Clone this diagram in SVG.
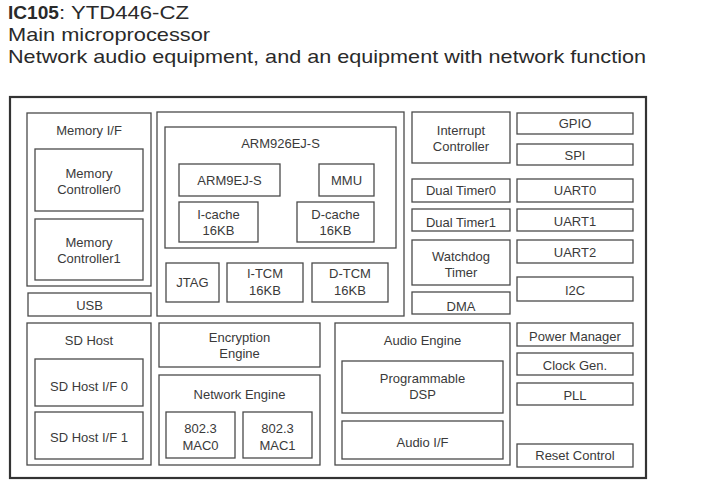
<svg xmlns="http://www.w3.org/2000/svg" width="717" height="489" viewBox="0 0 717 489">
<style>
.b{fill:#fff;stroke:#4a4a4a;stroke-width:1.3}
.t{font-family:"Liberation Sans",Arial,sans-serif;font-size:13px;fill:#3a3a3a;text-anchor:middle}
.h{font-family:"Liberation Sans",Arial,sans-serif;font-size:18.4px;fill:#2a2a2a}
</style>
<rect width="717" height="489" fill="#fff"/>
<g id="header">
<text class="h" x="8" y="19" font-weight="bold" fill="#111" textLength="51" lengthAdjust="spacingAndGlyphs">IC105</text>
<text class="h" x="59" y="19" textLength="130" lengthAdjust="spacingAndGlyphs">: YTD446-CZ</text>
<text class="h" x="8" y="40.5" textLength="202" lengthAdjust="spacingAndGlyphs">Main microprocessor</text>
<text class="h" x="8" y="62.5" textLength="638" lengthAdjust="spacingAndGlyphs">Network audio equipment, and an equipment with network function</text>
</g>
<g id="chip"><rect x="10" y="97" width="636" height="381" fill="#fff" stroke="#333" stroke-width="2.2"/></g>
<g id="connectors"></g>
<g id="memory-if"><rect class="b" x="27" y="113" width="124" height="173"/><text class="t" x="89" y="135">Memory I/F</text></g>
<g id="memory-controller0"><rect class="b" x="35" y="149" width="108" height="62"/><text class="t" x="89" y="178">Memory</text><text class="t" x="89" y="194">Controller0</text></g>
<g id="memory-controller1"><rect class="b" x="35" y="219" width="108" height="61"/><text class="t" x="89" y="247">Memory</text><text class="t" x="89" y="263">Controller1</text></g>
<g id="usb"><rect class="b" x="28" y="293" width="123" height="23"/><text class="t" x="89.5" y="309.5">USB</text></g>
<g id="cpu"><rect class="b" x="157" y="112" width="247" height="204"/></g>
<g id="arm926"><rect class="b" x="165" y="127" width="231" height="121"/><text class="t" x="280.5" y="148">ARM926EJ-S</text></g>
<g id="arm9ejs"><rect class="b" x="179" y="164" width="101" height="32"/><text class="t" x="229.5" y="185">ARM9EJ-S</text></g>
<g id="mmu"><rect class="b" x="319" y="164" width="55" height="32"/><text class="t" x="346.5" y="185">MMU</text></g>
<g id="icache"><rect class="b" x="179" y="202" width="79" height="40"/><text class="t" x="218.5" y="219">I-cache</text><text class="t" x="218.5" y="234.5">16KB</text></g>
<g id="dcache"><rect class="b" x="297" y="202" width="77" height="40"/><text class="t" x="335.5" y="219">D-cache</text><text class="t" x="335.5" y="234.5">16KB</text></g>
<g id="jtag"><rect class="b" x="166" y="263" width="53" height="39"/><text class="t" x="192.5" y="287">JTAG</text></g>
<g id="itcm"><rect class="b" x="227" y="263" width="76" height="39"/><text class="t" x="265" y="278">I-TCM</text><text class="t" x="265" y="294.5">16KB</text></g>
<g id="dtcm"><rect class="b" x="312" y="263" width="76" height="39"/><text class="t" x="350" y="278">D-TCM</text><text class="t" x="350" y="294.5">16KB</text></g>
<g id="interrupt-controller"><rect class="b" x="412" y="112" width="98" height="51"/><text class="t" x="461" y="134.5">Interrupt</text><text class="t" x="461" y="150.5">Controller</text></g>
<g id="gpio"><rect class="b" x="517" y="113" width="116" height="21"/><text class="t" x="575" y="128">GPIO</text></g>
<g id="spi"><rect class="b" x="517" y="144" width="116" height="21"/><text class="t" x="575" y="159.5">SPI</text></g>
<g id="dual-timer0"><rect class="b" x="412" y="179" width="98" height="23"/><text class="t" x="461" y="194.5">Dual Timer0</text></g>
<g id="uart0"><rect class="b" x="517" y="179" width="116" height="23"/><text class="t" x="575" y="194.5">UART0</text></g>
<g id="dual-timer1"><rect class="b" x="412" y="209" width="98" height="22"/><text class="t" x="461" y="227">Dual Timer1</text></g>
<g id="uart1"><rect class="b" x="517" y="209" width="116" height="22"/><text class="t" x="575" y="226">UART1</text></g>
<g id="watchdog-timer"><rect class="b" x="412" y="240" width="98" height="45"/><text class="t" x="461" y="260.5">Watchdog</text><text class="t" x="461" y="276.5">Timer</text></g>
<g id="uart2"><rect class="b" x="517" y="240" width="116" height="23"/><text class="t" x="575" y="257">UART2</text></g>
<g id="i2c"><rect class="b" x="517" y="277" width="116" height="24"/><text class="t" x="575" y="294.5">I2C</text></g>
<g id="dma"><rect class="b" x="412" y="292" width="98" height="22"/><text class="t" x="461" y="310.5">DMA</text></g>
<g id="sd-host"><rect class="b" x="27" y="323" width="124" height="142"/><text class="t" x="89" y="344.5">SD Host</text></g>
<g id="sd-host-if0"><rect class="b" x="35" y="359" width="108" height="47"/><text class="t" x="89" y="391">SD Host I/F 0</text></g>
<g id="sd-host-if1"><rect class="b" x="35" y="412" width="108" height="47"/><text class="t" x="89" y="442">SD Host I/F 1</text></g>
<g id="encryption-engine"><rect class="b" x="159" y="323" width="161" height="44"/><text class="t" x="239.5" y="342">Encryption</text><text class="t" x="239.5" y="358">Engine</text></g>
<g id="network-engine"><rect class="b" x="159" y="375" width="161" height="90"/><text class="t" x="239.5" y="398.5">Network Engine</text></g>
<g id="mac0"><rect class="b" x="166" y="412" width="69" height="46"/><text class="t" x="200.5" y="433">802.3</text><text class="t" x="200.5" y="449.5">MAC0</text></g>
<g id="mac1"><rect class="b" x="243" y="412" width="69" height="46"/><text class="t" x="277.5" y="433">802.3</text><text class="t" x="277.5" y="449.5">MAC1</text></g>
<g id="audio-engine"><rect class="b" x="335" y="323" width="175" height="142"/><text class="t" x="422.5" y="344.5">Audio Engine</text></g>
<g id="programmable-dsp"><rect class="b" x="342" y="361" width="161" height="52"/><text class="t" x="422.5" y="383">Programmable</text><text class="t" x="422.5" y="398.5">DSP</text></g>
<g id="audio-if"><rect class="b" x="342" y="421" width="161" height="38"/><text class="t" x="422.5" y="446.5">Audio I/F</text></g>
<g id="power-manager"><rect class="b" x="517" y="323" width="116" height="23"/><text class="t" x="575" y="340.5">Power Manager</text></g>
<g id="clock-gen"><rect class="b" x="517" y="353" width="116" height="22"/><text class="t" x="575" y="369.5">Clock Gen.</text></g>
<g id="pll"><rect class="b" x="517" y="383" width="116" height="22"/><text class="t" x="575" y="399.5">PLL</text></g>
<g id="reset-control"><rect class="b" x="517" y="444" width="116" height="23"/><text class="t" x="575" y="459.5">Reset Control</text></g>
</svg>
